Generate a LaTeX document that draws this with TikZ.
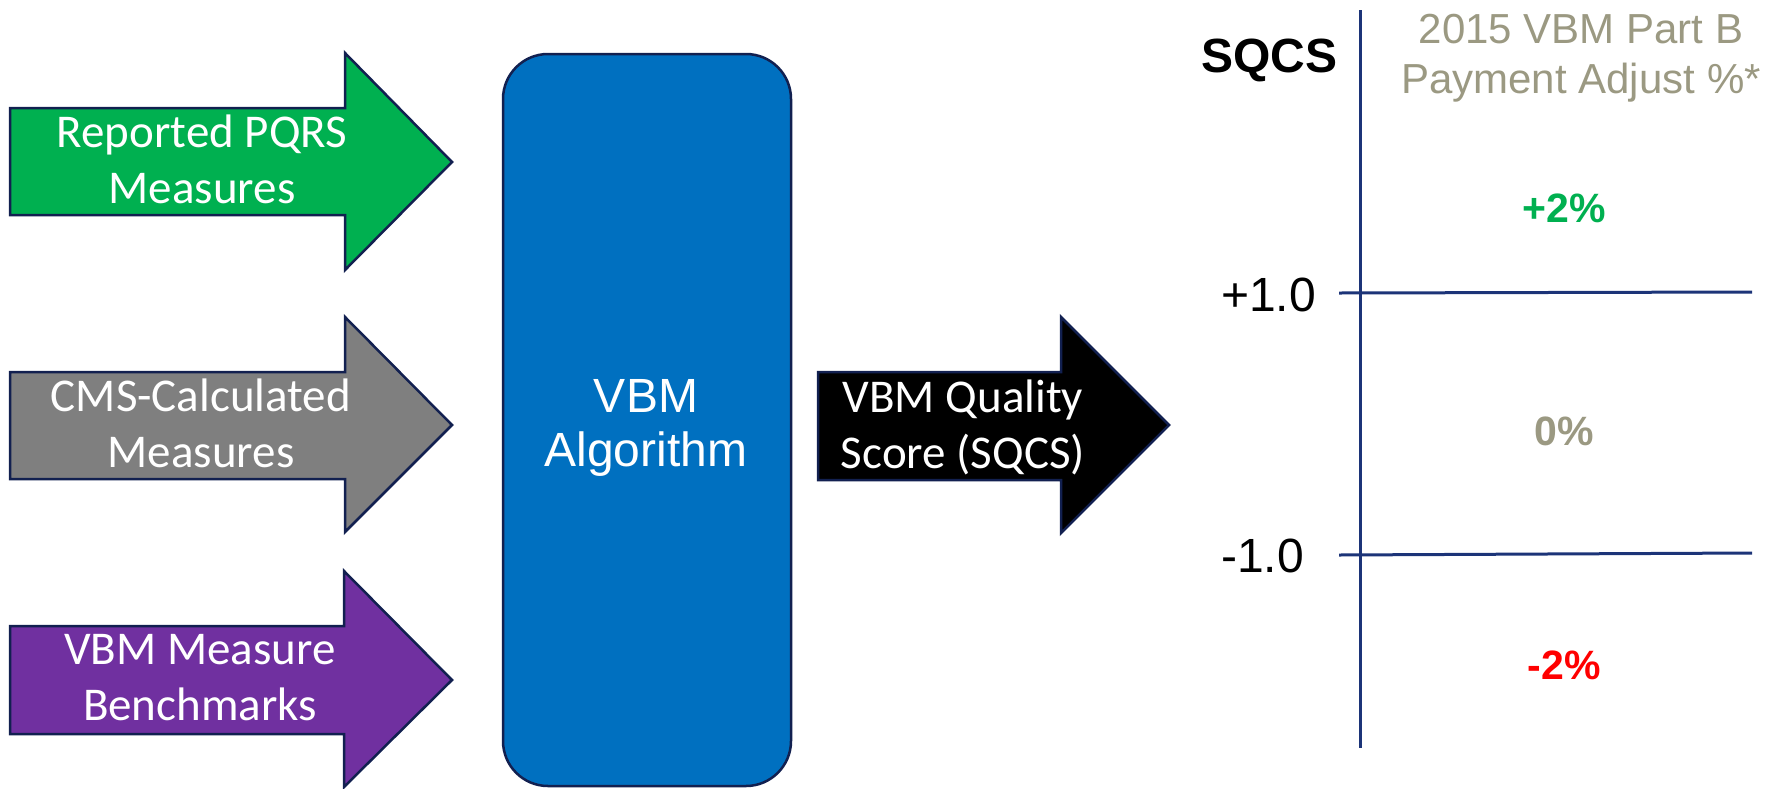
\documentclass[tikz,border=0pt]{standalone}
\usepackage{fontspec}
\setmainfont{Liberation Sans}
\newfontfamily\calib{Carlito}
\definecolor{navy}{RGB}{18,32,80}
\definecolor{axisblue}{RGB}{28,52,120}
\definecolor{pqgreen}{RGB}{0,176,80}
\definecolor{cmsgray}{RGB}{127,127,127}
\definecolor{vbmpurple}{RGB}{112,48,160}
\definecolor{vbmblue}{RGB}{0,112,192}
\definecolor{headgray}{RGB}{155,153,130}
\definecolor{plusgreen}{RGB}{0,176,80}
\definecolor{minusred}{RGB}{255,0,0}
\begin{document}
\begin{tikzpicture}[x=1pt,y=-1pt,
  arr/.style={draw=navy, line width=2.5pt, line join=miter},
  lbl/.style={text=white, align=center, inner sep=0pt, anchor=base,
    font=\calib\fontsize{47}{56}\selectfont},
  algolbl/.style={text=white, align=center, inner sep=0pt, anchor=base,
    font=\fontsize{48}{54}\selectfont},
  axisline/.style={draw=axisblue, line width=3pt},
  ticklbl/.style={inner sep=0pt, anchor=base west, font=\fontsize{48}{56}\selectfont},
  pct/.style={inner sep=0pt, anchor=base, font=\bfseries\fontsize{41}{48}\selectfont}]
\useasboundingbox (0,0) rectangle (1773,788);
% input arrows
\draw[arr, fill=pqgreen] (10,108) -- (345,108) -- (345,53) -- (452,162) -- (345,270) -- (345,215) -- (10,215) -- cycle;
\draw[arr, fill=cmsgray] (10,372) -- (345,372) -- (345,317) -- (452,425) -- (345,532) -- (345,479) -- (10,479) -- cycle;
\draw[arr, fill=vbmpurple] (10,626) -- (344,626) -- (344,571) -- (452,680) -- (344,787) -- (344,734) -- (10,734) -- cycle;
\node[lbl] (pqrs) at (202,203) {Reported PQRS\\Measures};
\node[lbl] (cms) at (201,467) {CMS-Calculated\\Measures};
\node[lbl] (bench) at (200,720) {VBM Measure\\Benchmarks};
% algorithm box
\node[draw=navy, fill=vbmblue, line width=2.5pt, rounded corners=45pt,
  minimum width=288pt, minimum height=732pt, inner sep=0pt] (algo) at (647,420) {};
\node[algolbl] (algotxt) at (646,466) {VBM\\Algorithm};
% output arrow
\draw[arr, fill=black] (818,372) -- (1061,372) -- (1061,317) -- (1169,425) -- (1061,533) -- (1061,480) -- (818,480) -- cycle;
\node[lbl] (sqcsarrow) at (963,468) {VBM Quality\\Score (SQCS)};
% chart
\coordinate (vtop) at (1360,10);
\coordinate (vbot) at (1360,748);
\coordinate (pl) at (1339,293);
\coordinate (pr) at (1752,292);
\coordinate (ml) at (1339,555);
\coordinate (mr) at (1752,553);
\draw[axisline] (vtop) -- (vbot);
\draw[axisline] (pl) -- (pr);
\draw[axisline] (ml) -- (mr);
\node[inner sep=0pt, anchor=base west, font=\bfseries\fontsize{48}{54}\selectfont] (sqcs) at (1201,72) {SQCS};
\node[inner sep=0pt, anchor=base, align=center, text=headgray, font=\fontsize{42}{50}\selectfont] (head) at (1581,93) {2015 VBM Part B\\Payment Adjust \%*};
\node[ticklbl] (plus) at (1221,311) {+1.0};
\node[ticklbl] (minus) at (1221,572) {-1.0};
\node[pct, text=plusgreen] (p2) at (1564,222) {+2\%};
\node[pct, text=headgray] (p0) at (1564,445) {0\%};
\node[pct, text=minusred] (m2) at (1564,679) {-2\%};
\end{tikzpicture}
\end{document}
